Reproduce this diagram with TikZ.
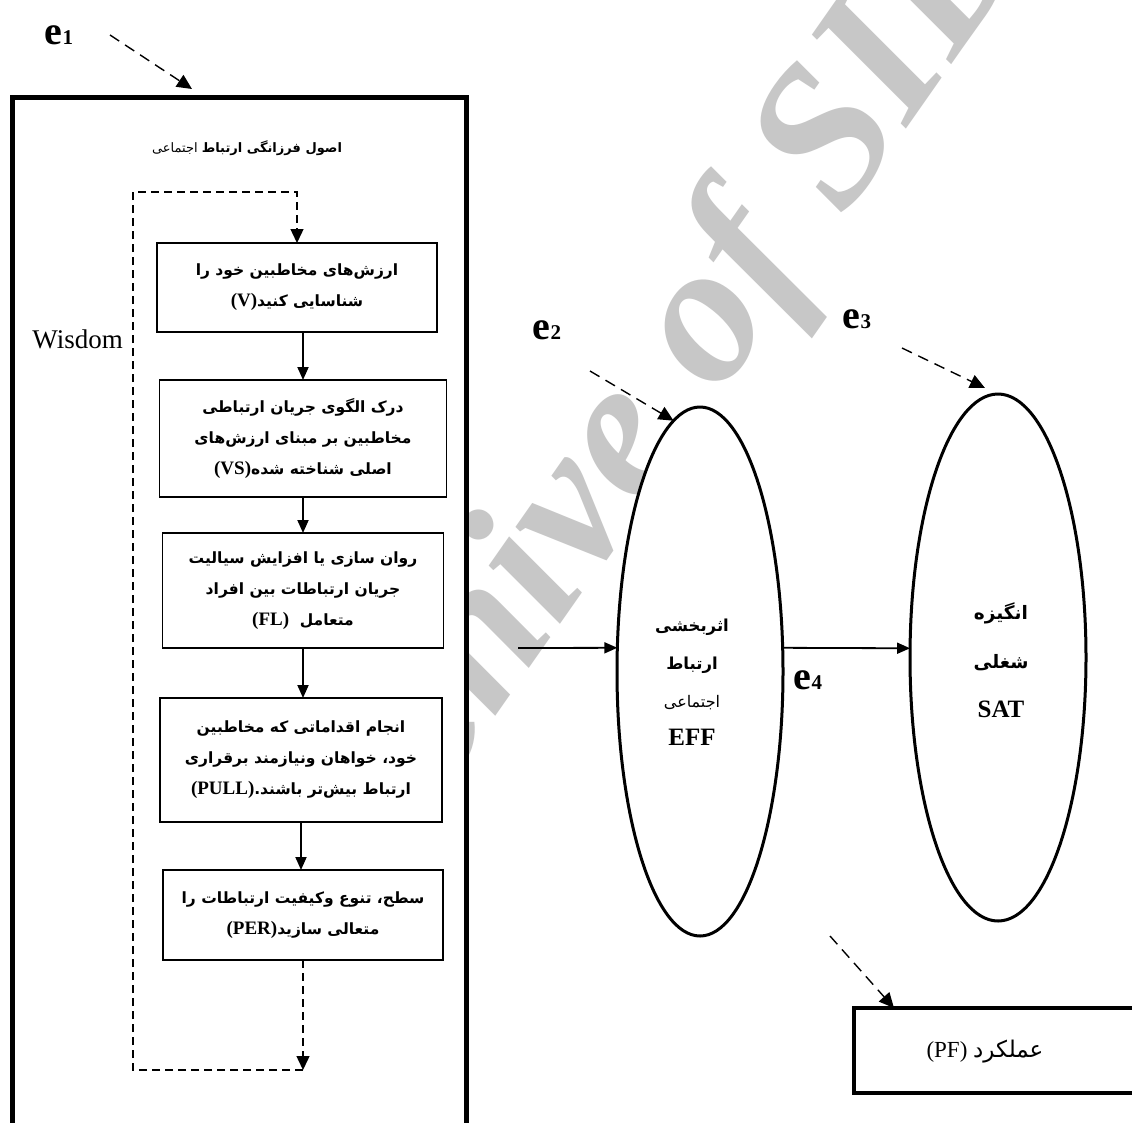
\documentclass[tikz,border=0pt]{standalone}
\usepackage{fontspec}
\setmainfont{Liberation Serif}
\newfontfamily\fa[Script=Arabic]{DejaVu Sans}
\TeXXeTstate=1
\usetikzlibrary{
	arrows.meta
	,shapes.geometric
	,positioning
}

\newcommand\rl[1]{\beginR#1\endR}
\newcommand\abbr[1]{\beginL{\rmfamily\fontsize{19}{31}\selectfont#1}\endL}
\newcommand\err[1]{{\fontsize{40}{40}\selectfont e}{\fontsize{21}{21}\selectfont #1}}

\tikzset{
	>={Triangle[length=13pt,width=11pt]},
	stepbox/.style={draw,line width=1.6pt,fill=white,align=center,outer sep=0pt,inner sep=2pt,
		font=\fa\bfseries\fontsize{15.5}{31}\selectfont},
	flow/.style={->,line width=1.8pt},
	loopline/.style={-{Triangle[length=14pt,width=13pt]},line width=1.4pt,dash pattern=on 8pt off 5pt},
	errline/.style={-{Triangle[length=15pt,width=14pt]},line width=1.4pt,dash pattern=on 11pt off 7pt},
	latent/.style={ellipse,draw,line width=3pt,fill=white,inner sep=0pt,outer sep=0pt},
	errlabel/.style={font=\bfseries,inner sep=0pt},
}

\begin{document}
\begin{tikzpicture}[x=1pt,y=-1pt]
\useasboundingbox (0,0) rectangle (1132,1122);
\clip (0,0) rectangle (1132,1122);
\fill[white] (0,0) rectangle (1132,1122);
% watermark
\node[rotate=55,text=black!22,font=\fontsize{200}{200}\selectfont\bfseries\itshape] (sid) at (638,427) {Archive of SID};

% left frame
\node[draw,line width=5pt,fill=white,outer sep=0pt,minimum width=454,minimum height=1100,anchor=north west] (frame) at (12,97) {};
\node[font=\fa\fontsize{13}{16}\selectfont] (title) at (247,148) {\rl{{\bfseries اصول فرزانگی ارتباط} اجتماعی}};

\node[stepbox,minimum width=280,minimum height=89] (v) at (297,287.5) {\rl{ارزش‌های مخاطبین خود را}\\ \rl{شناسایی کنید\abbr{(V)}}};
\node[stepbox,minimum width=287,minimum height=117] (vs) at (303,438.5) {\rl{درک الگوی جریان ارتباطی}\\ \rl{مخاطبین بر مبنای ارزش‌های}\\ \rl{اصلی شناخته شده\abbr{(VS)}}};
\node[stepbox,minimum width=281,minimum height=115] (fl) at (303,590.5) {\rl{روان سازی یا افزایش سیالیت}\\ \rl{جریان ارتباطات بین افراد}\\ \rl{متعامل \ \abbr{(FL)}}};
\node[stepbox,minimum width=282,minimum height=124] (pull) at (301,760) {\rl{انجام اقداماتی که مخاطبین}\\ \rl{خود، خواهان ونیازمند برقراری}\\ \rl{ارتباط بیش‌تر باشند.\abbr{(PULL)}}};
\node[stepbox,minimum width=280,minimum height=90] (per) at (303,915) {\rl{سطح، تنوع وکیفیت ارتباطات را}\\ \rl{متعالی سازید\abbr{(PER)}}};

\draw[flow] (vs.north |- v.south) -- (vs.north);
\draw[flow] (vs.south) -- (vs.south |- fl.north);
\draw[flow] (fl.south) -- (fl.south |- pull.north);
\draw[flow] (pull.south) -- (pull.south |- per.north);

% wisdom loop
\coordinate (loopleft) at (133,1070);
\coordinate (looptop) at (133,192);
\draw[loopline] (per.south) -- (per.south |- loopleft);
\draw[loopline] (per.south |- loopleft) -- (loopleft) -- (looptop) -| (v.north);
\node[anchor=east,inner sep=0pt,font=\fontsize{27}{27}\selectfont] (wisdom) at (123,339) {Wisdom};

\node[errlabel] (e1) at (59,35) {\err{1}};
\coordinate (e1s) at (110,35);
\coordinate (e1t) at (192,89);
\draw[errline] (e1s) -- (e1t);

% right part
\node[latent,minimum width=166,minimum height=529] (eff) at (700,671.5) {};
\node[align=center,font=\fa\bfseries\fontsize{16.5}{38}\selectfont] (efftext) at (692,682)
	{\rl{اثربخشی}\\ \rl{ارتباط}\\ {\mdseries\fontsize{16}{34}\selectfont\rl{اجتماعی}}\\ {\rmfamily\fontsize{25}{32}\selectfont EFF}};
\node[latent,minimum width=176,minimum height=527] (sat) at (998,657.5) {};
\node[align=center,font=\fa\bfseries\fontsize{18.5}{49}\selectfont] (sattext) at (1001,660)
	{\rl{انگیزه}\\ \rl{شغلی}\\ {\rmfamily\fontsize{25}{46}\selectfont SAT}};

\coordinate (in) at (518,648);
\draw[flow] (in) -- (eff.164);
\draw[flow] (eff.16) -- (sat.174);

\node[errlabel] (e2) at (547,330) {\err{2}};
\coordinate (e2s) at (590,371);
\draw[errline] (e2s) -- (eff.96);

\node[errlabel] (e3) at (857,319) {\err{3}};
\coordinate (e3s) at (902,348);
\coordinate (e3t) at (985,388);
\draw[errline] (e3s) -- (e3t);

\node[errlabel] (e4) at (808,680) {\err{4}};

\node[draw,line width=4pt,outer sep=0pt,minimum width=300,minimum height=85,anchor=north west] (pf) at (854,1008) {};
\node[font=\fontsize{23}{23}\selectfont] (pftext) at (985,1052) {\beginR{\fa عملکرد} \beginL(PF)\endL\endR};
\coordinate (pfs) at (830,936);
\draw[errline] (pfs) -- ([xshift=40pt]pf.north west);
\end{tikzpicture}
\end{document}
